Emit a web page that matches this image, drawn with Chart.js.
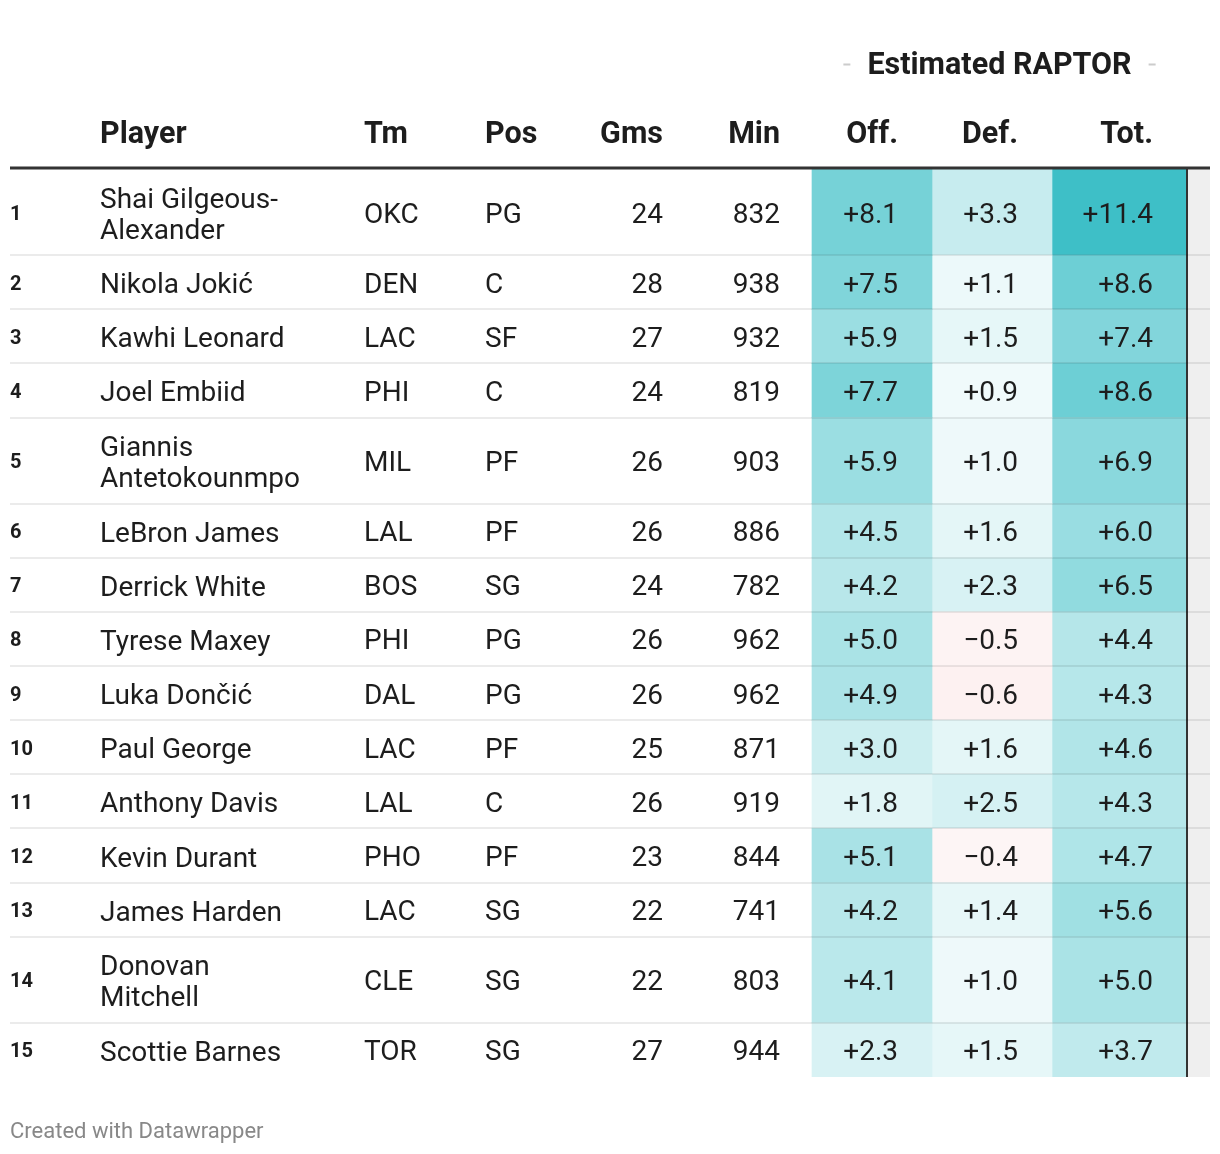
<!DOCTYPE html>
<html>
<head>
<meta charset="utf-8">
<script src="https://cdn.jsdelivr.net/npm/chart.js@4.4.1/dist/chart.umd.min.js"></script>
<style>
  html, body { margin: 0; padding: 0; background: #fff; }
  canvas { display: block; }
</style>
</head>
<body>
<canvas id="chart" width="1220" height="1154"></canvas>
<script>
// table data
const ranks = [1, 2, 3, 4, 5, 6, 7, 8, 9, 10, 11, 12, 13, 14, 15];
const players = [
  'Shai Gilgeous-\nAlexander', 'Nikola Jokić', 'Kawhi Leonard', 'Joel Embiid',
  'Giannis\nAntetokounmpo', 'LeBron James', 'Derrick White', 'Tyrese Maxey',
  'Luka Dončić', 'Paul George', 'Anthony Davis', 'Kevin Durant',
  'James Harden', 'Donovan\nMitchell', 'Scottie Barnes'
];
const teams = ['OKC', 'DEN', 'LAC', 'PHI', 'MIL', 'LAL', 'BOS', 'PHI', 'DAL', 'LAC', 'LAL', 'PHO', 'LAC', 'CLE', 'TOR'];
const positions = ['PG', 'C', 'SF', 'C', 'PF', 'PF', 'SG', 'PG', 'PG', 'PF', 'C', 'PF', 'SG', 'SG', 'SG'];
const games = [24, 28, 27, 24, 26, 26, 24, 26, 26, 25, 26, 23, 22, 22, 27];
const minutes = [832, 938, 932, 819, 903, 886, 782, 962, 962, 871, 919, 844, 741, 803, 944];
const offense = [8.1, 7.5, 5.9, 7.7, 5.9, 4.5, 4.2, 5.0, 4.9, 3.0, 1.8, 5.1, 4.2, 4.1, 2.3];
const defense = [3.3, 1.1, 1.5, 0.9, 1.0, 1.6, 2.3, -0.5, -0.6, 1.6, 2.5, -0.4, 1.4, 1.0, 1.5];
const total = [11.4, 8.6, 7.4, 8.6, 6.9, 6.0, 6.5, 4.4, 4.3, 4.6, 4.3, 4.7, 5.6, 5.0, 3.7];
const headers = ['Player', 'Tm', 'Pos', 'Gms', 'Min', 'Off.', 'Def.', 'Tot.'];
const groupTitle = 'Estimated RAPTOR';
const credit = 'Created with Datawrapper';

// layout
const FONT = 'Roboto, "Noto Sans", sans-serif';
const INK = '#1d1d1d';
const lineH = 31;
const rowHeights = players.map(p => 22.2 + 32 * p.split('\n').length);
const rowTops = [];
let acc = 0;
rowHeights.forEach(h => { rowTops.push(acc); acc += h; });
const tableHeight = acc;

// text columns: anchor x + alignment
const cols = {
  rank: { x: 10, align: 'left' },
  player: { x: 100, align: 'left' },
  team: { x: 364, align: 'left' },
  pos: { x: 485, align: 'left' },
  gms: { x: 663, align: 'right' },
  min: { x: 780, align: 'right' },
  off: { x: 898, align: 'right' },
  def: { x: 1018, align: 'right' },
  tot: { x: 1153, align: 'right' }
};
const heatCols = [
  { label: 'Off.', values: offense, from: 812, to: 932 },
  { label: 'Def.', values: defense, from: 932, to: 1052 },
  { label: 'Tot.', values: total, from: 1052, to: 1187 }
];
const maxVal = Math.max(...offense, ...defense, ...total);

function mix(a, b, t) {
  return 'rgb(' + a.map((c, i) => Math.round(c + (b[i] - c) * t)).join(',') + ')';
}
function heatColor(v) {
  if (v >= 0) return mix([255, 255, 255], [62, 191, 199], Math.min(v / maxVal, 1));
  return mix([255, 255, 255], [230, 110, 110], Math.min(-v / 6, 1));
}
function fmt(v) {
  return (v < 0 ? '\u2212' : '+') + Math.abs(v).toFixed(1);
}

const datasets = heatCols.map(c => ({
  type: 'bar',
  label: c.label,
  data: c.values.map((v, i) => ({ x: (c.from + c.to) / 2, y: [rowTops[i], rowTops[i] + rowHeights[i]] })),
  backgroundColor: c.values.map(heatColor),
  barThickness: c.to - c.from,
  borderWidth: 0,
  grouped: false
}));
// grey strip on the right edge of the table
datasets.push({
  type: 'bar',
  label: 'edge',
  data: [{ x: 1199, y: [0, tableHeight] }],
  backgroundColor: '#efefef',
  barThickness: 22,
  borderWidth: 0,
  grouped: false
});

const tablePlugin = {
  id: 'tableText',
  afterDraw(chart) {
    const { ctx, scales: { x, y } } = chart;
    const top = chart.chartArea.top;
    ctx.save();
    ctx.textBaseline = 'alphabetic';

    // group title with small dashes
    const gx = x.getPixelForValue((heatCols[0].from + heatCols[2].to) / 2);
    ctx.font = 'bold 30.5px ' + FONT;
    ctx.fillStyle = INK;
    ctx.textAlign = 'center';
    ctx.fillText(groupTitle, gx, 74);
    const tw = ctx.measureText(groupTitle).width;
    ctx.strokeStyle = '#cccccc';
    ctx.lineWidth = 2;
    ctx.beginPath();
    ctx.moveTo(gx - tw / 2 - 24, 64.5); ctx.lineTo(gx - tw / 2 - 17, 64.5);
    ctx.moveTo(gx + tw / 2 + 17, 64.5); ctx.lineTo(gx + tw / 2 + 24, 64.5);
    ctx.stroke();

    // column headers
    const keys = ['player', 'team', 'pos', 'gms', 'min', 'off', 'def', 'tot'];
    headers.forEach((h, i) => {
      const c = cols[keys[i]];
      ctx.textAlign = c.align;
      ctx.fillText(h, x.getPixelForValue(c.x), 143);
    });

    // thick rule under the header
    ctx.fillStyle = '#333333';
    ctx.fillRect(x.getPixelForValue(10), top - 2.5, x.getPixelForValue(1210) - x.getPixelForValue(10), 3);

    // body rows
    players.forEach((name, i) => {
      const cy = y.getPixelForValue(rowTops[i] + rowHeights[i] / 2);
      ctx.fillStyle = INK;
      ctx.font = 'bold 20px ' + FONT;
      ctx.textAlign = 'left';
      ctx.fillText(String(ranks[i]), x.getPixelForValue(cols.rank.x), cy + 7.5);

      ctx.font = '28px ' + FONT;
      const lines = name.split('\n');
      lines.forEach((ln, k) => {
        ctx.fillText(ln, x.getPixelForValue(cols.player.x), cy + 11 + (k - (lines.length - 1) / 2) * lineH);
      });
      const cells = [
        ['team', teams[i]], ['pos', positions[i]], ['gms', String(games[i])], ['min', String(minutes[i])],
        ['off', fmt(offense[i])], ['def', fmt(defense[i])], ['tot', fmt(total[i])]
      ];
      cells.forEach(([k, txt]) => {
        ctx.textAlign = cols[k].align;
        ctx.fillText(txt, x.getPixelForValue(cols[k].x), cy + 10.5);
      });
    });

    // credit line
    ctx.font = '22px ' + FONT;
    ctx.fillStyle = '#888888';
    ctx.textAlign = 'left';
    ctx.fillText(credit, 10, 1138);
    ctx.restore();
  }
};

new Chart(document.getElementById('chart'), {
  type: 'bar',
  data: { datasets },
  options: {
    responsive: false,
    animation: false,
    events: [],
    devicePixelRatio: 1,
    layout: { padding: { left: 10, right: 10, top: 169, bottom: 77 } },
    plugins: { legend: { display: false }, tooltip: { enabled: false } },
    scales: {
      x: {
        type: 'linear',
        min: 10,
        max: 1210,
        offset: false,
        afterBuildTicks: scale => { scale.ticks = [{ value: 1187 }]; },
        ticks: { display: false },
        border: { display: false },
        grid: { color: '#333333', lineWidth: 2, drawTicks: false, offset: false, z: 1 }
      },
      y: {
        type: 'linear',
        reverse: true,
        min: 0,
        max: tableHeight,
        afterBuildTicks: scale => { scale.ticks = rowTops.slice(1).map(v => ({ value: v })); },
        ticks: { display: false },
        border: { display: false },
        grid: { color: 'rgba(0,0,0,0.08)', lineWidth: 2, drawTicks: false, z: 1 }
      }
    }
  },
  plugins: [tablePlugin]
});
</script>
</body>
</html>
